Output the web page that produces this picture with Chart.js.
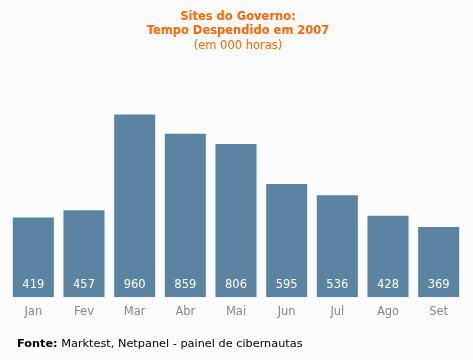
<!DOCTYPE html>
<html>
<head>
<meta charset="utf-8">
<script src="https://cdn.jsdelivr.net/npm/chart.js@4/dist/chart.umd.min.js"></script>
<style>
  html, body { margin: 0; padding: 0; background: #fbfbfb; }
  #wrap { width: 473px; height: 360px; }
</style>
</head>
<body>
<div id="wrap"><canvas id="chart" width="473" height="360"></canvas></div>
<script>
// chart data
const months = ["Jan", "Fev", "Mar", "Abr", "Mai", "Jun", "Jul", "Ago", "Set"];
const hours = [419, 457, 960, 859, 806, 595, 536, 428, 369];
const titleLines = ["Sites do Governo:", "Tempo Despendido em 2007"];
const subtitleText = "(em 000 horas)";
const sourceLabel = "Fonte:";
const sourceText = " Marktest, Netpanel - painel de cibernautas";

const FONT = "'DejaVu Sans', Verdana, sans-serif";

// titles, value labels and footer
const textPlugin = {
  id: 'texts',
  afterDatasetsDraw(chart) {
    const ctx = chart.ctx;
    ctx.save();
    ctx.textAlign = 'center';
    ctx.textBaseline = 'middle';

    // value labels inside bars, near the bottom
    ctx.fillStyle = '#ffffff';
    ctx.font = '11.5px ' + FONT;
    chart.getDatasetMeta(0).data.forEach((bar, i) => {
      ctx.fillText(String(hours[i]), bar.x, bar.base - 12);
    });

    // title
    ctx.fillStyle = '#ff6600';
    ctx.font = 'bold 11.5px ' + FONT;
    ctx.fillText(titleLines[0], 238, 17);
    ctx.fillText(titleLines[1], 238, 31);
    ctx.font = '11.5px ' + FONT;
    ctx.fillText(subtitleText, 238, 46);

    // footer
    ctx.textAlign = 'left';
    ctx.fillStyle = '#000000';
    ctx.font = 'bold 11.3px ' + FONT;
    ctx.fillText(sourceLabel, 17, 344);
    const w = ctx.measureText(sourceLabel).width;
    ctx.font = '11.3px ' + FONT;
    ctx.fillText(sourceText, 17 + w, 344);
    ctx.restore();
  }
};

new Chart(document.getElementById('chart'), {
  type: 'bar',
  data: {
    labels: months,
    datasets: [{
      data: hours,
      backgroundColor: '#5b84a3',
      borderWidth: 0,
      barPercentage: 0.9,
      categoryPercentage: 0.9
    }]
  },
  options: {
    responsive: false,
    animation: false,
    events: [],
    layout: { padding: { left: 8, right: 9, top: 107, bottom: 33 } },
    plugins: {
      legend: { display: false },
      title: { display: false },
      tooltip: { enabled: false }
    },
    scales: {
      x: {
        grid: { display: false, drawTicks: false },
        border: { display: false },
        ticks: { color: '#888888', font: { family: FONT, size: 11.5 }, padding: 8 }
      },
      y: {
        display: false,
        min: 0,
        max: 1000
      }
    }
  },
  plugins: [textPlugin]
});
</script>
</body>
</html>
